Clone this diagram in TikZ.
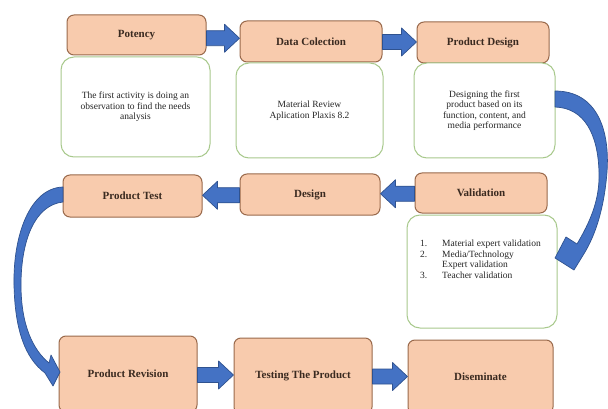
\documentclass[tikz,border=0pt]{standalone}
\usepackage{fontspec}
\setmainfont{Liberation Serif}
\usetikzlibrary{calc}
\definecolor{orfill}{HTML}{F8CBAD}
\definecolor{ordraw}{HTML}{9A6A4C}
\definecolor{grdraw}{HTML}{A8C98C}
\definecolor{blfill}{HTML}{4472C4}
\definecolor{bldraw}{HTML}{2F528F}
\definecolor{txt}{HTML}{3A2A20}
\tikzset{
  hdr/.style={draw=ordraw, fill=orfill, line width=1pt, rounded corners=7pt, inner sep=0pt,
    font=\fontsize{11}{13}\selectfont\bfseries, text=txt},
  desc/.style={draw=grdraw, fill=white, line width=1pt, rounded corners=13pt, inner sep=0pt,
    font=\fontsize{9.5}{10.5}\selectfont, text=black!85, align=center},
  body/.style={font=\fontsize{9.5}{10.5}\selectfont, text=black!85, inner sep=0pt},
  blockarr/.style={fill=blfill, draw=bldraw, line width=0.7pt, line join=round},
}
\newcommand\blkarr[2]{%
  \path[blockarr] let \p1=(#1), \p2=(#2), \n1={(\y1+\y2)/2}, \n2={sign(\x2-\x1)} in
  (\x1,\n1+7.5pt) -- (\x2-\n2*15pt,\n1+7.5pt) -- (\x2-\n2*15pt,\n1+14pt) -- (\x2,\n1)
  -- (\x2-\n2*15pt,\n1-14pt) -- (\x2-\n2*15pt,\n1-7.5pt) -- (\x1,\n1-7.5pt) -- cycle;}
\begin{document}
\begin{tikzpicture}[x=1pt,y=-1pt]
\useasboundingbox (0,0) rectangle (608,409);
\clip (0,0) rectangle (608,409);
\fill[white] (0,0) rectangle (608,409);

% top row
\node[hdr, minimum width=139pt, minimum height=40pt] (pot) at (136.5,35) {Potency};
\node[desc, minimum width=149pt, minimum height=100pt] (potd) at (135.5,107)
  {The first activity is doing an\\observation to find the needs\\analysis};
\node[hdr, minimum width=142pt, minimum height=41pt] (dat) at (311,41.5) {Data Colection};
\node[desc, minimum width=147pt, minimum height=95pt] (datd) at (309.5,110.5)
  {Material Review\\Aplication Plaxis 8.2};
\node[hdr, minimum width=132pt, minimum height=41pt] (pd) at (483,42.5) {Product Design};
\node[desc, minimum width=141pt, minimum height=95pt] (pdd) at (484.5,110.5)
  {Designing the first\\product based on its\\function, content, and\\media performance};

% middle row
\node[hdr, minimum width=132pt, minimum height=40pt] (val) at (481,193) {Validation};
\node[desc, minimum width=150pt, minimum height=113pt] (vald) at (482,271.5) {};
\node[body, anchor=north west, align=left] (valt) at (420,239)
  {\begin{tabular}{@{}p{22pt}@{}l@{}}1. & Material expert validation\\
   2. & Media/Technology\\
      & Expert validation\\
   3. & Teacher validation\end{tabular}};
\node[hdr, minimum width=140pt, minimum height=41pt] (des) at (310,194.5) {Design};
\node[hdr, minimum width=139pt, minimum height=42pt] (pt) at (132.5,196) {Product Test};

% bottom row
\node[hdr, minimum width=138pt, minimum height=76pt] (rev) at (128,374) {Product Revision};
\node[hdr, minimum width=138pt, minimum height=76pt] (tst) at (303,376) {Testing The Product};
\node[hdr, minimum width=145pt, minimum height=74pt] (dis) at (480.5,377) {Diseminate};

% straight block arrows
\blkarr{pot.east}{dat.west}
\blkarr{dat.east}{pd.west}
\blkarr{val.west}{des.east}
\blkarr{des.west}{pt.east}
\blkarr{rev.east}{tst.west}
\blkarr{tst.east}{dis.west}

% curved arrow: Product Design description -> Validation description
\path[blockarr] (555,91) .. controls (597,91) and (610,130) .. (607,172)
  .. controls (604,210) and (595,235) .. (585,252) -- (574,270) -- (555,258)
  -- (566,237) -- (577,244) .. controls (590,222) and (600,200) .. (599,172)
  .. controls (598,135) and (585,108) .. (555,107) -- cycle;

% curved arrow: Product Test -> Product Revision
\path[blockarr] (63,187) .. controls (30,188) and (13,235) .. (14,285)
  .. controls (15,330) and (25,358) .. (45,373) -- (53,386) -- (60,372)
  -- (51,355) -- (49,363) .. controls (33,350) and (21,325) .. (21,285)
  .. controls (21,240) and (35,205) .. (63,202) -- cycle;
\end{tikzpicture}
\end{document}
